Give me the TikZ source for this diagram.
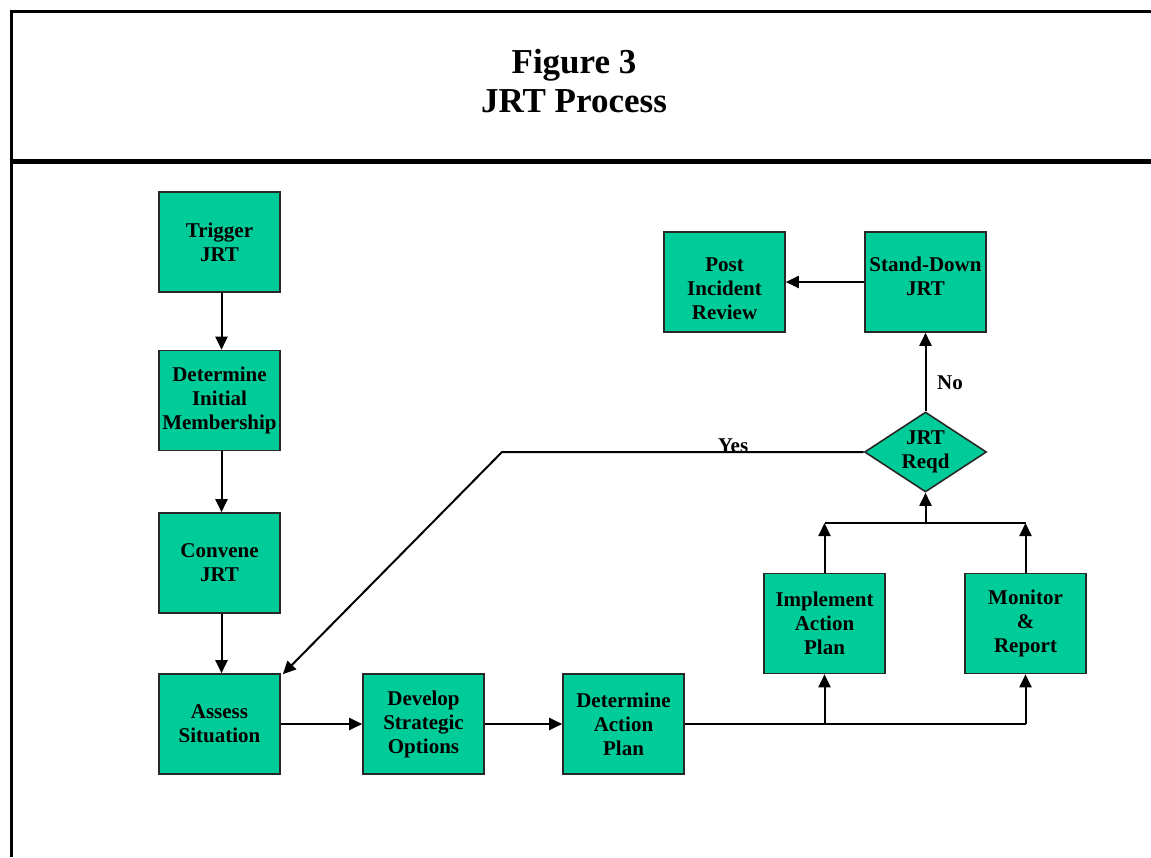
\documentclass[tikz,border=0pt]{standalone}
\usepackage{fontspec}
\setmainfont{Liberation Serif}
\usetikzlibrary{arrows.meta,shapes.geometric}
\definecolor{jrtgreen}{RGB}{0,204,153}
\definecolor{boxline}{RGB}{40,40,40}
\tikzset{
  box/.style={draw=boxline, line width=1.6pt, fill=jrtgreen, minimum width=121pt, minimum height=100pt,
    inner sep=0pt, align=center, font=\fontsize{21}{24}\selectfont\bfseries},
  decision/.style={diamond, aspect=1.525, draw=boxline, line width=1.6pt, fill=jrtgreen, minimum width=122pt, minimum height=80pt,
    inner sep=0pt, align=center, font=\fontsize{21}{24}\selectfont\bfseries},
  arr/.style={line width=2pt, -{Triangle[length=13pt,width=12pt]}},
  conn/.style={line width=2pt},
  lbl/.style={font=\fontsize{21}{24}\selectfont\bfseries, inner sep=0pt, align=center},
}
\begin{document}
\begin{tikzpicture}[x=1pt,y=-1pt]
\useasboundingbox (0,0) rectangle (1151,857);
% frame
\draw[line width=2.2pt] (11.5,857) -- (11.5,11.5) -- (1151,11.5);
\draw[line width=4.5pt] (10.5,161.5) -- (1151,161.5);
\node[font=\fontsize{35}{39}\selectfont\bfseries, align=center] (title) at (574,81) {Figure 3\\JRT Process};
% boxes
\node[box] (trig) at (219.5,242) {Trigger\\JRT};
\node[box] (memb) at (219.5,400.5) {Determine\\Initial\\Membership};
\node[box] (conv) at (219.5,563) {Convene\\JRT};
\node[box] (assess) at (219.5,724) {Assess\\Situation};
\node[box] (dev) at (423.5,724) {Develop\\Strategic\\Options};
\node[box] (dap) at (623.5,724) {Determine\\Action\\Plan};
\node[box] (impl) at (824.5,623.5) {Implement\\Action\\Plan};
\node[box] (mon) at (1025.5,623.5) {Monitor\\\&\\Report};
\node[box, label={[lbl, yshift=-7pt]center:Post\\Incident\\Review}] (post) at (724.5,282) {};
\node[box, label={[lbl, yshift=6pt]center:Stand-Down\\JRT}] (stand) at (925.5,282) {};
\node[decision] (reqd) at (925.5,452) {JRT\\Reqd};
% coordinates
\coordinate (bar) at (925.5,523);
\coordinate (bend) at (502,452);
% connectors
\draw[arr] ([xshift=2pt]trig.south) -- ([xshift=2pt]memb.north);
\draw[arr] ([xshift=2pt]memb.south) -- ([xshift=2pt]conv.north);
\draw[arr] ([xshift=2pt]conv.south) -- ([xshift=2pt]assess.north);
\draw[arr] (assess) -- (dev);
\draw[arr] (dev) -- (dap);
\draw[conn] (dap.east) -- (mon.south |- dap.east);
\draw[arr] (impl.south |- dap.east) -- (impl.south);
\draw[arr] (mon.south |- dap.east) -- (mon.south);
\draw[arr] (impl.north) -- (impl.north |- bar);
\draw[arr] (mon.north) -- (mon.north |- bar);
\draw[conn] (impl.north |- bar) -- (mon.north |- bar);
\draw[arr] (bar) -- (reqd.south);
\draw[arr] (reqd.north) -- (stand.south);
\draw[arr] (stand) -- (post);
\draw[arr] (reqd.west) -- (bend) -- ([xshift=2pt,yshift=-1pt]assess.north east);
% labels
\node[lbl] (no) at (950,383) {No};
\node[lbl] (yes) at (733,446) {Yes};
\end{tikzpicture}
\end{document}
